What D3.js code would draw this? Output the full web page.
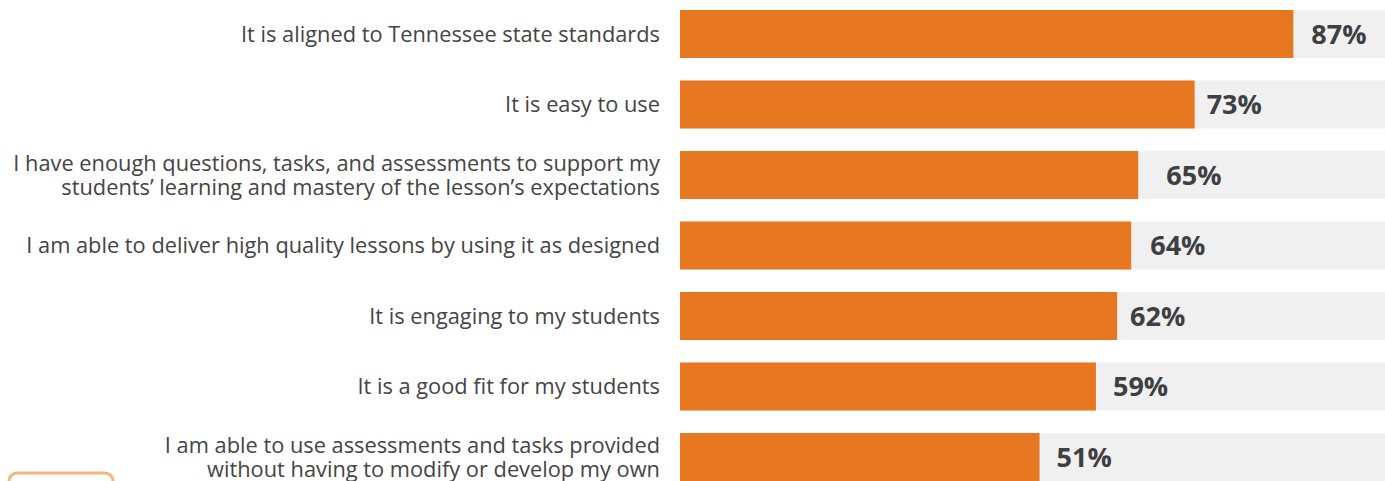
<!DOCTYPE html>
<html>
<head>
<meta charset="utf-8">
<script src="https://cdn.jsdelivr.net/npm/d3@7"></script>
<style>
  body { margin: 0; background: #fff; }
  #chart { width: 1385px; height: 481px; overflow: hidden; }
  .cat-label { font-family: "Open Sans", sans-serif; font-size: 21.8px; fill: #444; }
  .val-label { font-family: "Open Sans", sans-serif; font-size: 27px; font-weight: 700; fill: #3d3f42; }
</style>
</head>
<body>
<div id="chart"></div>
<script>
const categories = [
  ["It is aligned to Tennessee state standards"],
  ["It is easy to use"],
  ["I have enough questions, tasks, and assessments to support my", "students’ learning and mastery of the lesson’s expectations"],
  ["I am able to deliver high quality lessons by using it as designed"],
  ["It is engaging to my students"],
  ["It is a good fit for my students"],
  ["I am able to use assessments and tasks provided", "without having to modify or develop my own"]
];
const values = [87, 73, 65, 64, 62, 59, 51];

const width = 1385, height = 481;
const margins = { top: 10, right: 0, bottom: 0, left: 680 };
const rowStep = 70.5;
const barHeight = 48;
const gap = rowStep - barHeight;
// the original labels sit a little unevenly after the bar ends
const labelGap = [18, 12, 28, 19, 13, 17, 17];

const svg = d3.select('#chart')
  .append('svg')
    .attr('width', width)
    .attr('height', height)
    .attr('viewBox', `0 0 ${width} ${height}`);

const x = d3.scaleLinear()
  .domain([0, 100])
  .range([margins.left, width - margins.right]);

const y = d3.scaleBand()
  .domain(d3.range(values.length))
  .range([margins.top - gap / 2, margins.top - gap / 2 + rowStep * values.length])
  .paddingInner(gap / rowStep)
  .paddingOuter(gap / rowStep / 2);

// background tracks
svg.append('g')
  .selectAll('rect')
  .data(values)
  .join('rect')
    .attr('x', x(0))
    .attr('y', (d, i) => y(i))
    .attr('width', x(100) - x(0))
    .attr('height', y.bandwidth())
    .attr('fill', '#f0f0f0');

// bars
svg.append('g')
  .selectAll('rect')
  .data(values)
  .join('rect')
    .attr('x', x(0))
    .attr('y', (d, i) => y(i))
    .attr('width', d => x(d) - x(0))
    .attr('height', y.bandwidth())
    .attr('fill', '#e87722');

// value labels
svg.append('g')
  .selectAll('text')
  .data(values)
  .join('text')
    .attr('class', 'val-label')
    .attr('x', (d, i) => x(d) + labelGap[i])
    .attr('y', (d, i) => y(i) + y.bandwidth() / 2)
    .attr('dy', '0.36em')
    .text(d => `${d}%`);

// category labels
const lineHeight = 24;
const cat = svg.append('g')
  .selectAll('text')
  .data(categories)
  .join('text')
    .attr('class', 'cat-label')
    .attr('text-anchor', 'end')
    .attr('x', x(0) - 20)
    .attr('y', (d, i) => y(i) + y.bandwidth() / 2);

cat.selectAll('tspan')
  .data(d => d.map((line, j) => ({ line, j, n: d.length })))
  .join('tspan')
    .attr('x', x(0) - 20)
    .attr('dy', d => d.j === 0 ? (0.35 * 21.8 - (d.n - 1) * lineHeight / 2) + 'px' : `${lineHeight}px`)
    .text(d => d.line);

// partial legend box, bottom left
svg.append('rect')
  .attr('x', 9)
  .attr('y', 473)
  .attr('width', 104)
  .attr('height', 40)
  .attr('rx', 8)
  .attr('fill', 'none')
  .attr('stroke', '#f4b584')
  .attr('stroke-width', 3);
</script>
</body>
</html>
